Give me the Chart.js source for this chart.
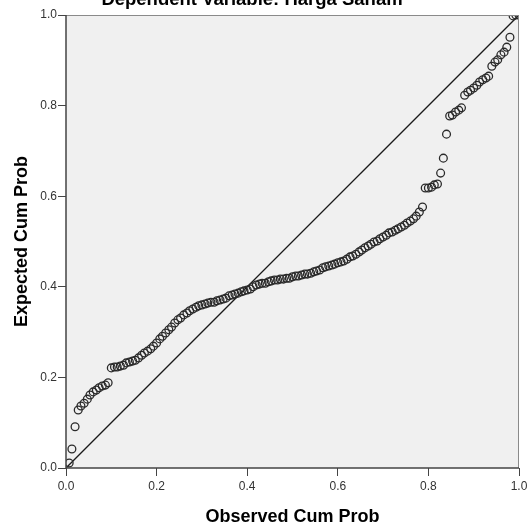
<!DOCTYPE html>
<html>
<head>
<meta charset="utf-8">
<script src="https://cdn.jsdelivr.net/npm/chart.js@4/dist/chart.umd.min.js"></script>
<style>
  html, body { margin: 0; padding: 0; background: #ffffff; }
  #wrap { width: 532px; height: 526px; position: relative; }
</style>
</head>
<body>
<div id="wrap"><canvas id="c" width="532" height="526"></canvas></div>
<script>
const chartTitle = "Dependent Variable: Harga Saham";
const xAxisTitle = "Observed Cum Prob";
const yAxisTitle = "Expected Cum Prob";
const tickValues = [0, 0.2, 0.4, 0.6, 0.8, 1.0];

const observedCumProb = [
  0.007, 0.013, 0.020, 0.027, 0.033, 0.040, 0.047, 0.053, 0.060, 0.067,
  0.073, 0.080, 0.087, 0.093, 0.100, 0.107, 0.113, 0.120, 0.127, 0.133,
  0.140, 0.147, 0.153, 0.160, 0.167, 0.173, 0.180, 0.187, 0.193, 0.200,
  0.207, 0.213, 0.220, 0.227, 0.233, 0.240, 0.247, 0.253, 0.260, 0.267,
  0.273, 0.280, 0.287, 0.293, 0.300, 0.307, 0.313, 0.320, 0.327, 0.333,
  0.340, 0.347, 0.353, 0.360, 0.367, 0.373, 0.380, 0.387, 0.393, 0.400,
  0.407, 0.413, 0.420, 0.427, 0.433, 0.440, 0.447, 0.453, 0.460, 0.467,
  0.473, 0.480, 0.487, 0.493, 0.500, 0.507, 0.513, 0.520, 0.527, 0.533,
  0.540, 0.547, 0.553, 0.560, 0.567, 0.573, 0.580, 0.587, 0.593, 0.600,
  0.607, 0.613, 0.620, 0.627, 0.633, 0.640, 0.647, 0.653, 0.660, 0.667,
  0.673, 0.680, 0.687, 0.693, 0.700, 0.707, 0.713, 0.720, 0.727, 0.733,
  0.740, 0.747, 0.753, 0.760, 0.767, 0.773, 0.780, 0.787, 0.793, 0.800,
  0.807, 0.813, 0.820, 0.827, 0.833, 0.840, 0.847, 0.853, 0.860, 0.867,
  0.873, 0.880, 0.887, 0.893, 0.900, 0.907, 0.913, 0.920, 0.927, 0.933,
  0.940, 0.947, 0.953, 0.960, 0.967, 0.973, 0.980, 0.987, 0.993, 1.000
];

const expectedCumProb = [
  0.011, 0.042, 0.091, 0.128, 0.137, 0.143, 0.152, 0.161, 0.168, 0.172,
  0.177, 0.181, 0.183, 0.188, 0.221, 0.223, 0.223, 0.225, 0.227, 0.232,
  0.234, 0.236, 0.238, 0.243, 0.249, 0.254, 0.258, 0.263, 0.269, 0.276,
  0.285, 0.291, 0.298, 0.305, 0.311, 0.320, 0.327, 0.331, 0.338, 0.342,
  0.347, 0.351, 0.355, 0.358, 0.360, 0.362, 0.364, 0.366, 0.366, 0.369,
  0.371, 0.373, 0.375, 0.380, 0.382, 0.384, 0.386, 0.389, 0.391, 0.393,
  0.395, 0.400, 0.404, 0.406, 0.408, 0.408, 0.411, 0.413, 0.415, 0.415,
  0.417, 0.417, 0.419, 0.419, 0.422, 0.424, 0.424, 0.426, 0.428, 0.428,
  0.430, 0.433, 0.435, 0.437, 0.442, 0.444, 0.446, 0.448, 0.450, 0.453,
  0.455, 0.457, 0.461, 0.466, 0.468, 0.472, 0.477, 0.481, 0.486, 0.490,
  0.494, 0.499, 0.501, 0.506, 0.510, 0.514, 0.519, 0.521, 0.525, 0.528,
  0.532, 0.536, 0.541, 0.545, 0.550, 0.556, 0.565, 0.576, 0.618, 0.618,
  0.620, 0.625, 0.627, 0.651, 0.684, 0.737, 0.777, 0.779, 0.786, 0.790,
  0.795, 0.823, 0.830, 0.834, 0.839, 0.845, 0.852, 0.857, 0.861, 0.865,
  0.887, 0.896, 0.901, 0.912, 0.918, 0.929, 0.951, 0.998, 1.000, 1.000
];

const diagonalX = [0, 1];
const diagonalY = [0, 1];

const points = observedCumProb.map((x, i) => ({ x: x, y: expectedCumProb[i] }));
const diagonal = diagonalX.map((x, i) => ({ x: x, y: diagonalY[i] }));

const FONT = "Arial, 'Liberation Sans', sans-serif";

const decorPlugin = {
  id: 'decor',
  beforeDraw(chart) {
    const { ctx, chartArea: a } = chart;
    ctx.save();
    ctx.fillStyle = '#f0f0f0';
    ctx.fillRect(a.left, a.top, a.right - a.left, a.bottom - a.top);
    ctx.restore();
  },
  afterDraw(chart) {
    const { ctx, chartArea: a } = chart;
    ctx.save();
    // frame top & right
    ctx.strokeStyle = '#8a8a8a';
    ctx.lineWidth = 1;
    ctx.beginPath();
    ctx.moveTo(a.left, a.top + 0.5);
    ctx.lineTo(a.right, a.top + 0.5);
    ctx.moveTo(a.right - 0.5, a.top);
    ctx.lineTo(a.right - 0.5, a.bottom);
    ctx.stroke();
    // axes left & bottom
    ctx.strokeStyle = '#444444';
    ctx.lineWidth = 1.5;
    ctx.beginPath();
    ctx.moveTo(a.left, a.top);
    ctx.lineTo(a.left, a.bottom);
    ctx.lineTo(a.right, a.bottom);
    ctx.stroke();
    // titles
    ctx.fillStyle = '#000000';
    ctx.textAlign = 'center';
    ctx.textBaseline = 'alphabetic';
    ctx.font = 'bold 18.5px ' + FONT;
    ctx.fillText(chartTitle, 252, 5);
    ctx.font = 'bold 18px ' + FONT;
    ctx.fillText(xAxisTitle, (a.left + a.right) / 2, 522);
    ctx.translate(27, (a.top + a.bottom) / 2);
    ctx.rotate(-Math.PI / 2);
    ctx.fillText(yAxisTitle, 0, 0);
    ctx.restore();
  }
};

const tickFmt = v => Number(v).toFixed(1);

new Chart(document.getElementById('c'), {
  type: 'scatter',
  data: {
    datasets: [
      {
        type: 'line',
        data: diagonal,
        borderColor: '#1a1a1a',
        borderWidth: 1.3,
        pointRadius: 0,
        fill: false,
        clip: 0,
        order: 2
      },
      {
        type: 'scatter',
        data: points,
        pointStyle: 'circle',
        pointRadius: 3.9,
        pointBorderWidth: 1.3,
        pointBorderColor: '#2a2a2a',
        pointBackgroundColor: 'rgba(0,0,0,0)',
        borderColor: '#2a2a2a',
        backgroundColor: 'rgba(0,0,0,0)',
        clip: 0,
        order: 1
      }
    ]
  },
  options: {
    responsive: false,
    animation: false,
    devicePixelRatio: 1,
    layout: { padding: { left: 0, right: 13, top: 15, bottom: 0 } },
    plugins: { legend: { display: false }, tooltip: { enabled: false }, title: { display: false } },
    scales: {
      x: {
        type: 'linear',
        min: 0, max: 1,
        afterBuildTicks: s => { s.ticks = tickValues.map(v => ({ value: v })); },
        afterFit: s => { s.height = 58; },
        grid: { display: true, drawOnChartArea: false, drawTicks: true, tickLength: 8, color: '#444444', lineWidth: 1 },
        border: { display: false },
        ticks: { callback: tickFmt, color: '#333333', font: { family: FONT, size: 12 }, padding: 3, maxRotation: 0 }
      },
      y: {
        type: 'linear',
        min: 0, max: 1,
        afterBuildTicks: s => { s.ticks = tickValues.map(v => ({ value: v })); },
        afterFit: s => { s.width = 66; },
        grid: { display: true, drawOnChartArea: false, drawTicks: true, tickLength: 8, color: '#444444', lineWidth: 1 },
        border: { display: false },
        ticks: { callback: tickFmt, color: '#333333', font: { family: FONT, size: 12 }, padding: 1 }
      }
    }
  },
  plugins: [decorPlugin]
});
</script>
</body>
</html>
